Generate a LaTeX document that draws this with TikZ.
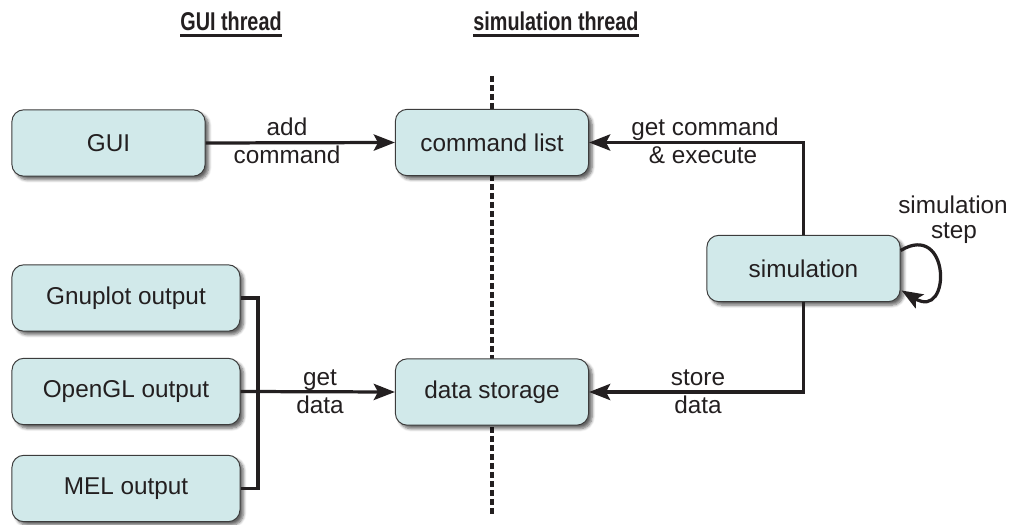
\documentclass[tikz,border=0pt]{standalone}
\usepackage{fontspec}
\setmainfont{Liberation Sans}
\newfontfamily\headfont[FakeStretch=0.77]{Liberation Sans}
\usetikzlibrary{arrows.meta,calc,shadows.blur}
\definecolor{boxfill}{HTML}{D1E9EA}
\definecolor{boxline}{HTML}{3C3C3C}
\definecolor{ink}{HTML}{231F20}
\tikzset{
  box/.style={draw=boxline, line width=0.7pt, fill=boxfill, rounded corners=8.5pt,
    minimum height=1.66cm, inner sep=0pt, text=ink,
    font=\fontsize{17.3}{20}\selectfont,
    blur shadow={shadow xshift=2.5pt, shadow yshift=-2.5pt, shadow blur steps=6, shadow opacity=60}},
  smallbox/.style={box, minimum width=4.83cm},
  widebox/.style={box, minimum width=5.7cm},
  conn/.style={draw=ink, line width=2.3pt},
  arrow/.style={conn, -{Stealth[length=15pt,width=11.5pt,inset=3pt]}},
  lbl/.style={anchor=base, text=ink, inner sep=0pt, font=\fontsize{17.3}{20}\selectfont},
  head/.style={anchor=base, text=ink, inner sep=0pt, font=\headfont\bfseries\fontsize{18.3}{21}\selectfont},
}
\begin{document}
\begin{tikzpicture}[x=0.025cm,y=-0.025cm]
\useasboundingbox (0,0) rectangle (1012,525);
% headers
\node[head] (h1) at (231,31) {GUI thread};
\node[head] (h2) at (556,31) {simulation thread};
\draw[ink, line width=1.7pt] ($(h1.south west)+(0,4)$) -- ($(h1.south east)+(0,4)$);
\draw[ink, line width=1.7pt] ($(h2.south west)+(0,4)$) -- ($(h2.south east)+(0,4)$);
% divider
\coordinate (dtop) at (492,76);
\coordinate (dbot) at (492,515);
\draw[ink, line width=2.5pt, dash pattern=on 4.2pt off 2.2pt] (dtop) -- (dbot);
% boxes
\node[smallbox] (gui) at (108.5,143) {GUI};
\node[smallbox] (cmd) at (492,142.5) {command list};
\node[smallbox] (sim) at (803.5,268.5) {simulation};
\node[smallbox] (ds) at (492,392) {data storage};
\node[widebox] (gnu) at (126,298) {Gnuplot output};
\node[widebox] (ogl) at (126,391.5) {OpenGL output};
\node[widebox] (mel) at (126,488.5) {MEL output};
% connectors
\draw[arrow] (gui.east) -- (cmd.west);
\draw[arrow] (sim.north) |- (cmd.east);
\draw[arrow] (sim.south) |- (ds.east);
\coordinate (bus) at (258,392);
\draw[conn] (gnu.east) -| (bus |- mel.east) -- (mel.east);
\draw[arrow] (ogl.east) -- (ds.west);
\draw[arrow] ($(sim.east)+(0,-18)$) .. controls +(50,-30) and +(50,30) .. ($(sim.east)+(1,22)$);
% labels
\node[lbl] at (287,136) {add};
\node[lbl] at (287,163) {command};
\node[lbl] at (705,136) {get command};
\node[lbl] at (703,164) {\& execute};
\node[lbl] at (320,385) {get};
\node[lbl] at (320,413) {data};
\node[lbl] at (698,385) {store};
\node[lbl] at (698,413) {data};
\node[lbl] at (953,214) {simulation};
\node[lbl] at (954,238) {step};
\end{tikzpicture}
\end{document}
